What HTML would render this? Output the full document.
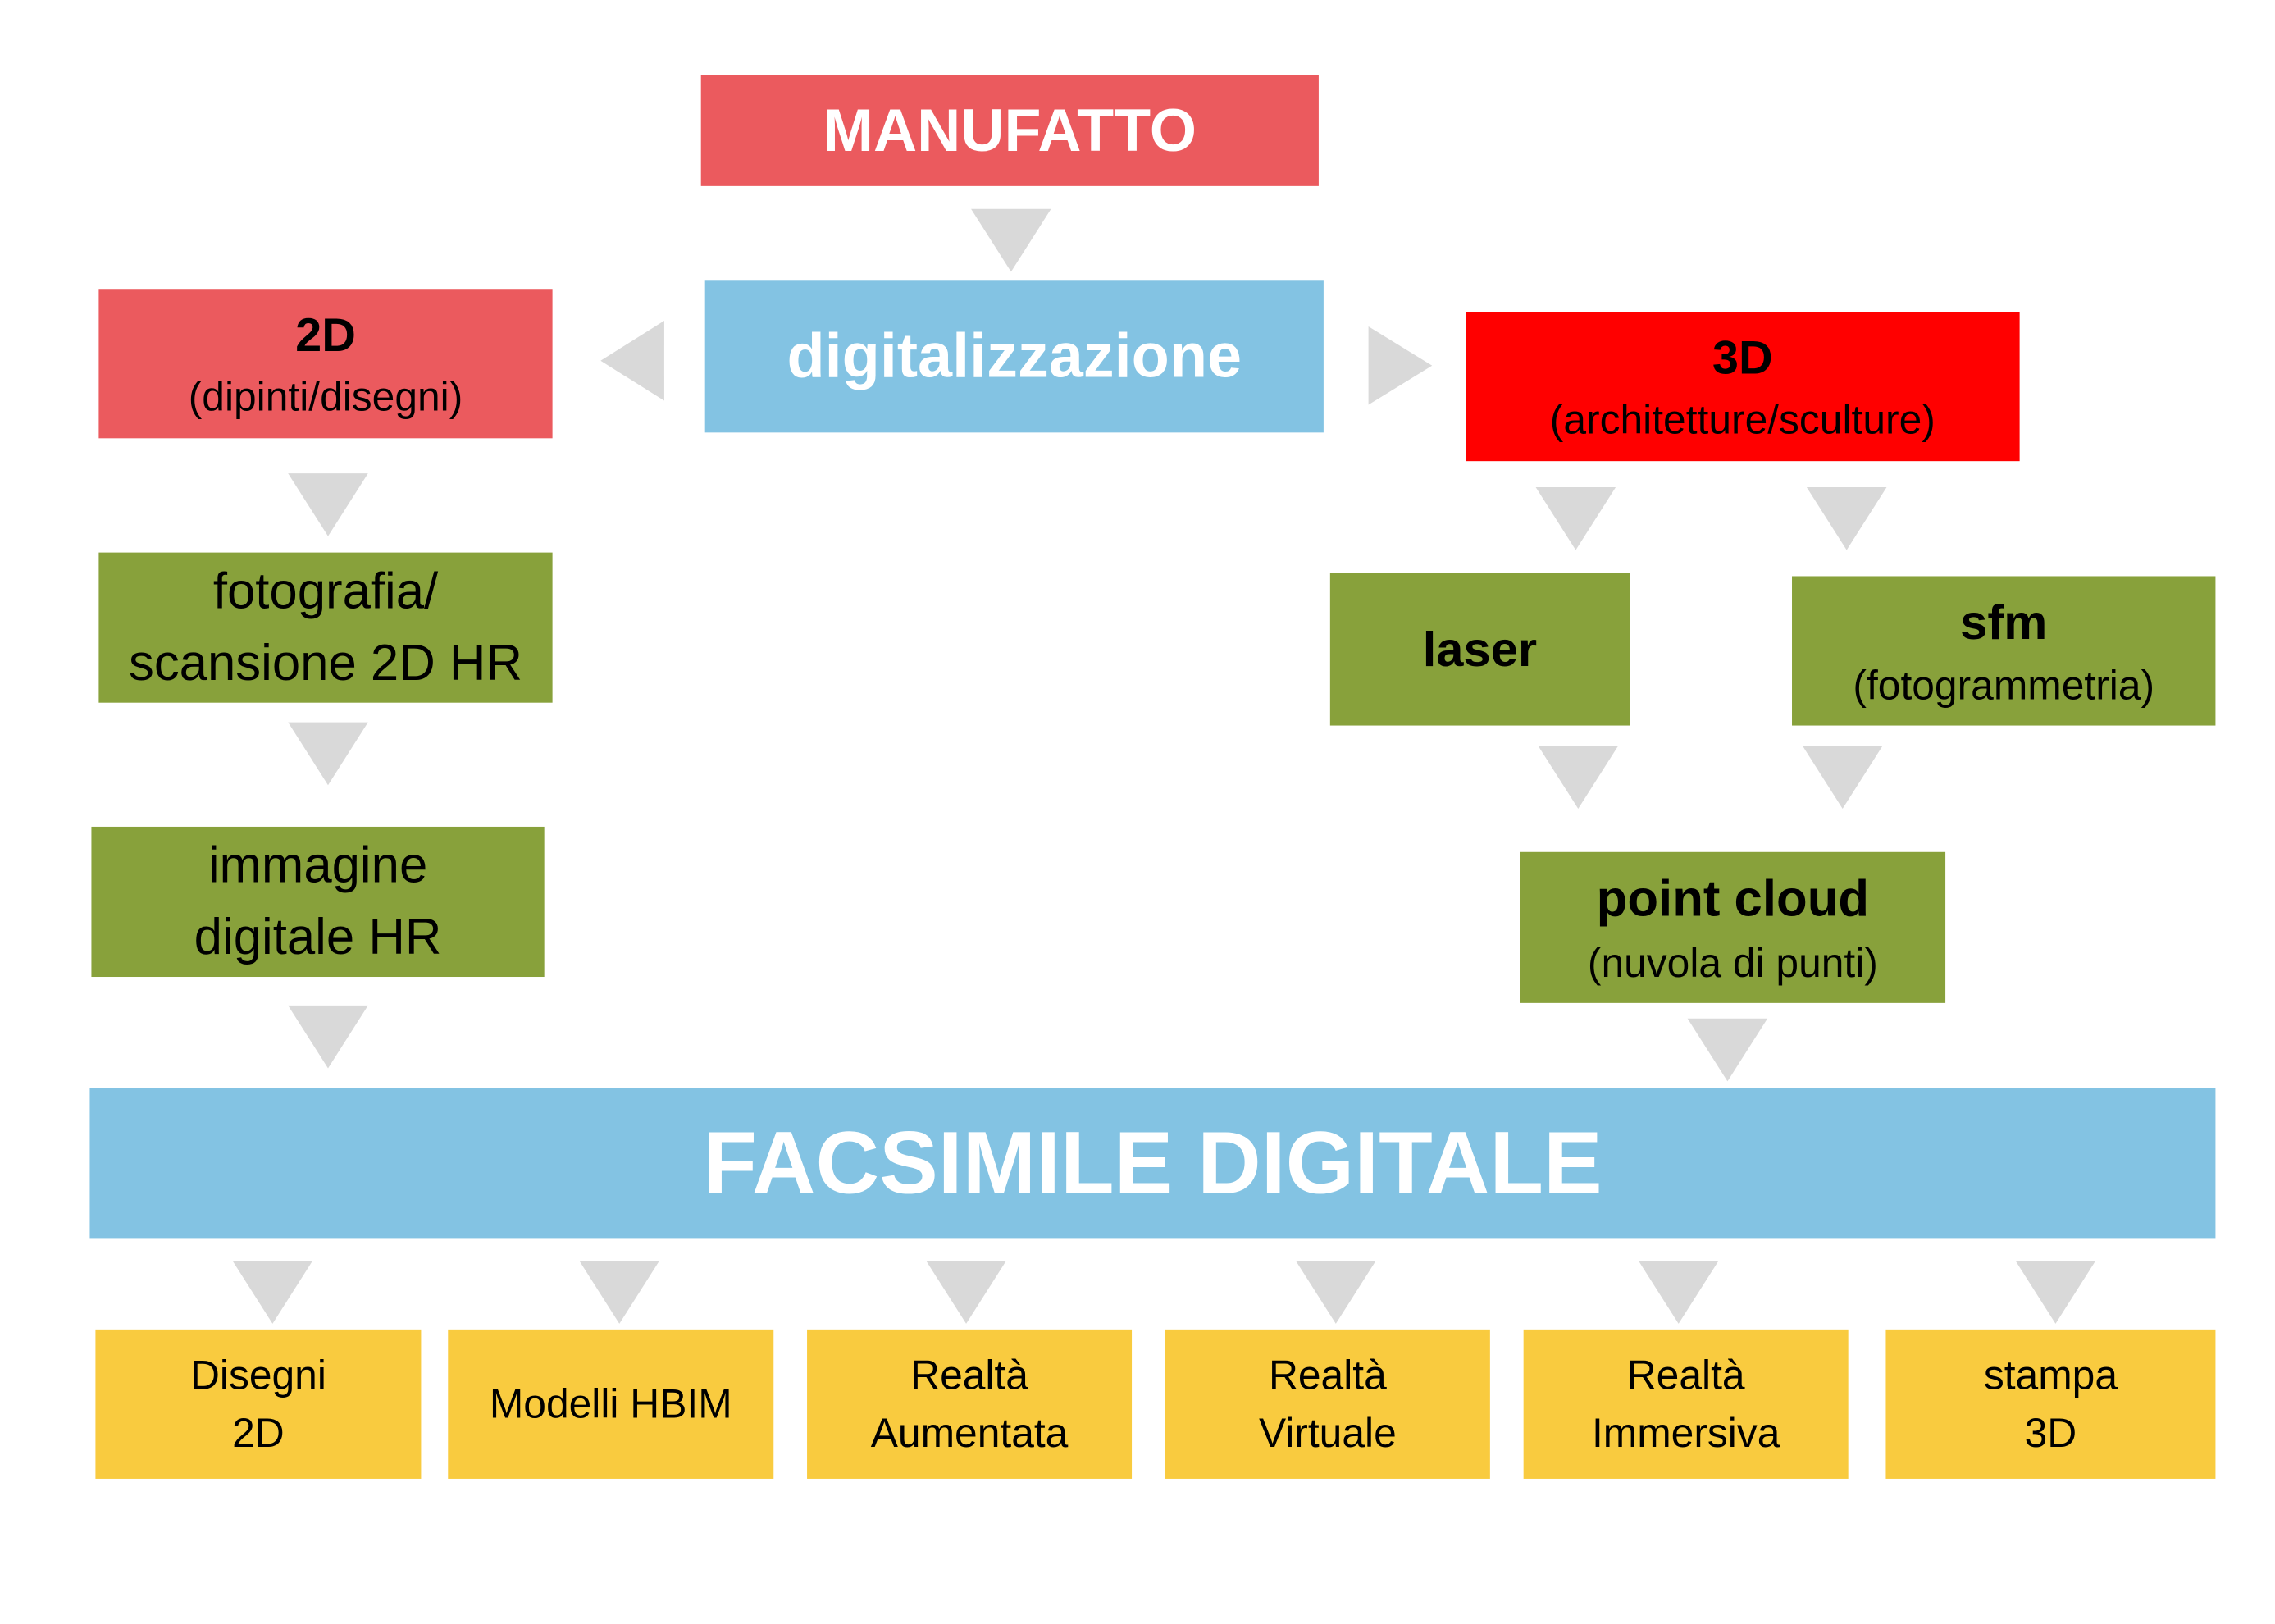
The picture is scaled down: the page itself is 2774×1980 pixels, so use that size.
<!DOCTYPE html>
<html><head><meta charset="utf-8"><style>
body{margin:0;width:2774px;height:1972px;background:#fff;position:relative;overflow:hidden;font-family:"Liberation Sans",sans-serif;}
#w{position:absolute;left:0;top:0;width:2790px;height:1990px;transform:scale(0.995);transform-origin:0 0;}
.b{position:absolute;display:flex;flex-direction:column;align-items:center;justify-content:center;text-align:center;color:#000;line-height:1.42;}
.red{background:#eb5a5e}.blue{background:#83c3e3}.r3{background:#ff0000}.g{background:#88a13b}.y{background:#f9cb3f}
.t{position:absolute;width:0;height:0;}
.d{border-left:49px solid transparent;border-right:49px solid transparent;border-top:77px solid #d9d9d9;}
.s{font-size:50px;line-height:1.38}.m{font-size:62px;line-height:1.42}
</style></head><body><div id="w">
<div class="b red" style="left:859px;top:92px;width:757px;height:136px;color:#fff;font-weight:bold;font-size:74px">MANUFATTO</div>
<div class="b blue" style="left:864px;top:343px;width:758px;height:187px;color:#fff;font-weight:bold;font-size:76px">digitalizzazione</div>
<div class="b red" style="left:121px;top:354px;width:556px;height:183px"><b style="font-size:58px">2D</b><span class="s">(dipinti/disegni)</span></div>
<div class="b r3" style="left:1796px;top:382px;width:679px;height:183px"><b style="font-size:58px">3D</b><span class="s">(architetture/sculture)</span></div>
<div class="b g m" style="left:121px;top:677px;width:556px;height:184px">fotografia/<br>scansione 2D HR</div>
<div class="b g m" style="left:112px;top:1013px;width:555px;height:184px">immagine<br>digitale HR</div>
<div class="b g" style="left:1630px;top:702px;width:367px;height:187px"><b style="font-size:60px">laser</b></div>
<div class="b g" style="left:2196px;top:706px;width:519px;height:183px"><b style="font-size:60px">sfm</b><span class="s">(fotogrammetria)</span></div>
<div class="b g" style="left:1863px;top:1044px;width:521px;height:185px"><b style="font-size:62px">point cloud</b><span class="s">(nuvola di punti)</span></div>
<div class="b blue" style="left:110px;top:1333px;width:2605px;height:184px;color:#fff;font-weight:bold;font-size:108px">FACSIMILE DIGITALE</div>
<div class="b y s" style="left:117px;top:1629px;width:399px;height:183px;line-height:1.42">Disegni<br>2D</div>
<div class="b y s" style="left:549px;top:1629px;width:399px;height:183px">Modelli HBIM</div>
<div class="b y s" style="left:989px;top:1629px;width:398px;height:183px;line-height:1.42">Realtà<br>Aumentata</div>
<div class="b y s" style="left:1428px;top:1629px;width:398px;height:183px;line-height:1.42">Realtà<br>Virtuale</div>
<div class="b y s" style="left:1867px;top:1629px;width:398px;height:183px;line-height:1.42">Realtà<br>Immersiva</div>
<div class="b y s" style="left:2311px;top:1629px;width:404px;height:183px;line-height:1.42">stampa<br>3D</div>
<div class="t d" style="left:1190px;top:256px"></div>
<div class="t" style="left:736px;top:393px;border-top:49px solid transparent;border-bottom:49px solid transparent;border-right:78px solid #d9d9d9"></div>
<div class="t" style="left:1677px;top:400px;border-top:48px solid transparent;border-bottom:48px solid transparent;border-left:78px solid #d9d9d9"></div>
<div class="t d" style="left:353px;top:580px"></div>
<div class="t d" style="left:353px;top:885px"></div>
<div class="t d" style="left:353px;top:1232px"></div>
<div class="t d" style="left:1882px;top:597px"></div>
<div class="t d" style="left:2214px;top:597px"></div>
<div class="t d" style="left:1885px;top:914px"></div>
<div class="t d" style="left:2209px;top:914px"></div>
<div class="t d" style="left:2068px;top:1248px"></div>
<div class="t d" style="left:285px;top:1545px"></div>
<div class="t d" style="left:710px;top:1545px"></div>
<div class="t d" style="left:1135px;top:1545px"></div>
<div class="t d" style="left:1588px;top:1545px"></div>
<div class="t d" style="left:2008px;top:1545px"></div>
<div class="t d" style="left:2470px;top:1545px"></div>
</div></body></html>
